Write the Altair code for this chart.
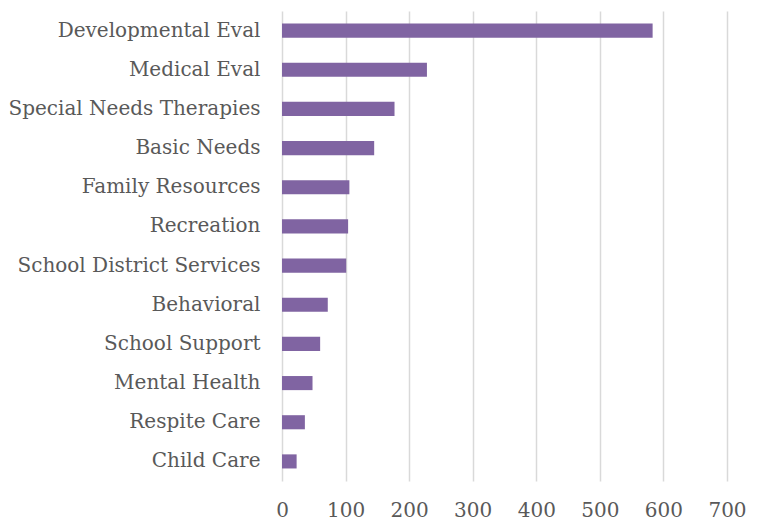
import altair as alt
import pandas as pd

categories = ["Developmental Eval", "Medical Eval", "Special Needs Therapies", "Basic Needs",
              "Family Resources", "Recreation", "School District Services", "Behavioral",
              "School Support", "Mental Health", "Respite Care", "Child Care"]
values = [583, 228, 177, 145, 106, 104, 101, 72, 60, 48, 36, 23]
x_ticks = [0, 100, 200, 300, 400, 500, 600, 700]

df = pd.DataFrame({"category": categories, "value": values})

FONT = "DejaVu Serif"

chart = alt.Chart(df).mark_bar(color="#8064A2").encode(
    x=alt.X("value:Q",
            scale=alt.Scale(domain=[0, 700], nice=False),
            axis=alt.Axis(values=x_ticks, title=None, grid=True, gridColor="#d9d9d9",
                          gridWidth=1.5, domain=False, ticks=False, labelPadding=19,
                          labelFlush=False, labelOverlap=False,
                          labelFont=FONT, labelFontSize=20, labelColor="#595959")),
    y=alt.Y("category:N", sort=categories,
            scale=alt.Scale(paddingInner=0.64, paddingOuter=0.32),
            axis=alt.Axis(title=None, domain=False, ticks=False, labelPadding=22,
                          labelFont=FONT, labelFontSize=20, labelColor="#595959",
                          labelLimit=400)),
).properties(
    width=445, height=470,
    autosize=alt.AutoSizeParams(type="none"),
    padding={"left": 274, "top": 3, "right": 20, "bottom": 40},
).configure_view(stroke=None)

chart.save("out.html", embed_options={"renderer": "svg", "actions": False})
